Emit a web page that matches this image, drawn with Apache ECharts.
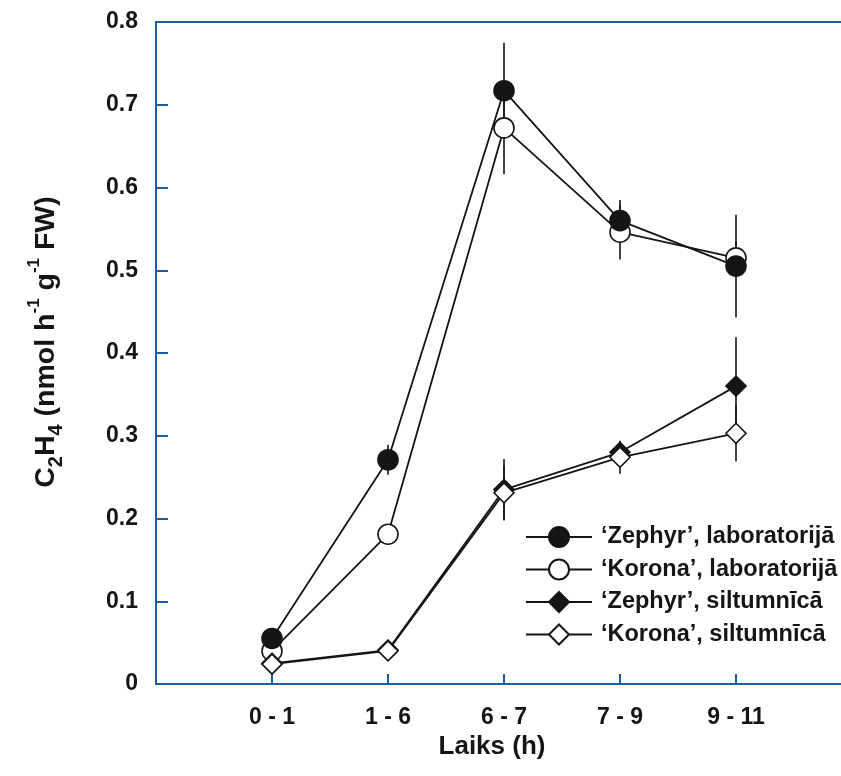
<!DOCTYPE html>
<html>
<head>
<meta charset="utf-8">
<style>
  html, body { margin: 0; padding: 0; background: #fff; }
  #chart { width: 841px; height: 776px; }
</style>
<script src="https://cdn.jsdelivr.net/npm/echarts@6/dist/echarts.min.js"></script>
</head>
<body>
<div id="chart"></div>
<script>
// Time intervals after harvest (hours)
const categories = ['0 - 1', '1 - 6', '6 - 7', '7 - 9', '9 - 11'];

// Ethylene production, nmol h-1 g-1 FW: means and error half-widths
const zephyrLab = [0.055, 0.271, 0.717, 0.560, 0.505];
const zephyrLabErr = [0, 0.018, 0.058, 0.025, 0.062];
const koronaLab = [0.040, 0.181, 0.672, 0.546, 0.515];
const koronaLabErr = [0, 0, 0.056, 0.033, 0.02];
const zephyrGreen = [0.025, 0.041, 0.235, 0.280, 0.360];
const zephyrGreenErr = [0, 0, 0.037, 0.012, 0.059];
const koronaGreen = [0.024, 0.040, 0.231, 0.274, 0.303];
const koronaGreenErr = [0, 0, 0.033, 0.020, 0.034];

const yTicks = [0, 0.1, 0.2, 0.3, 0.4, 0.5, 0.6, 0.7, 0.8];

const seriesNames = [
  '\u2018Zephyr\u2019, laboratorij\u0101',
  '\u2018Korona\u2019, laboratorij\u0101',
  '\u2018Zephyr\u2019, siltumn\u012bc\u0101',
  '\u2018Korona\u2019, siltumn\u012bc\u0101'
];

const AXIS = '#1f5ba8';
const INK = '#151515';
const FONT = 'Liberation Sans, Arial, Helvetica, sans-serif';

function points(values) {
  return values.map((v, i) => [i + 1, v]);
}
function bars(values, errs) {
  return values.map((v, i) => [i + 1, v - errs[i], v + errs[i]]);
}

function errorSeries(values, errs) {
  return {
    type: 'custom',
    silent: true,
    z: 1,
    data: bars(values, errs).filter(d => d[2] > d[1]),
    encode: { x: 0, y: [1, 2] },
    renderItem: function (params, api) {
      const lo = api.coord([api.value(0), api.value(1)]);
      const hi = api.coord([api.value(0), api.value(2)]);
      return {
        type: 'line',
        shape: { x1: lo[0], y1: lo[1], x2: hi[0], y2: hi[1] },
        style: { stroke: INK, lineWidth: 1.6 }
      };
    }
  };
}

function lineSeries(name, values, symbol, filled, z) {
  return {
    name: name,
    type: 'line',
    data: points(values),
    symbol: symbol,
    symbolSize: 20,
    z: z,
    lineStyle: { color: INK, width: 1.8 },
    itemStyle: {
      color: filled ? INK : '#ffffff',
      borderColor: INK,
      borderWidth: 1.6
    },
    emphasis: { disabled: true }
  };
}

const chart = echarts.init(document.getElementById('chart'), null, { renderer: 'canvas' });

chart.setOption({
  animation: false,
  backgroundColor: '#ffffff',
  grid: {
    left: 156, top: 22, width: 696, height: 662,
    outerBoundsMode: 'none',
    containLabel: false,
    show: true, borderColor: AXIS, borderWidth: 2, backgroundColor: 'transparent'
  },
  legend: {
    orient: 'vertical',
    left: 525,
    top: 525,
    padding: 0,
    itemWidth: 66,
    itemHeight: 25,
    itemGap: 8.5,
    data: seriesNames,
    textStyle: { color: INK, fontFamily: FONT, fontWeight: 'bold', fontSize: 23.5, padding: [0, 0, 0, 4] }
  },
  xAxis: {
    type: 'value',
    min: 0,
    max: 6,
    interval: 1,
    name: 'Laiks (h)',
    nameLocation: 'middle',
    nameGap: 47,
    nameTextStyle: { color: INK, fontFamily: FONT, fontWeight: 'bold', fontSize: 26, padding: [0, 24, 0, 0] },
    axisLine: { lineStyle: { color: AXIS, width: 2 } },
    axisTick: { inside: true, length: 10, lineStyle: { color: AXIS, width: 2 } },
    splitLine: { show: false },
    axisLabel: {
      margin: 22,
      color: INK, fontFamily: FONT, fontWeight: 'bold', fontSize: 23,
      formatter: function (v) {
        const i = Math.round(v) - 1;
        return categories[i] !== undefined ? categories[i] : '';
      }
    }
  },
  yAxis: {
    type: 'value',
    min: 0,
    max: 0.8,
    interval: 0.1,
    name: '{b|C}{s|2}{b|H}{s|4}{b| (nmol h}{p|-1}{b| g}{p|-1}{b| FW)}',
    nameLocation: 'middle',
    nameRotate: 90,
    nameGap: 90,
    nameTextStyle: {
      color: INK,
      padding: [0, 0, 0, 22],
      rich: {
        b: { fontFamily: FONT, fontWeight: 'bold', fontSize: 28.5, lineHeight: 40, color: INK },
        s: { fontFamily: FONT, fontWeight: 'bold', fontSize: 20, lineHeight: 22, verticalAlign: 'bottom', color: INK },
        p: { fontFamily: FONT, fontWeight: 'bold', fontSize: 17, lineHeight: 19, verticalAlign: 'top', color: INK }
      }
    },
    axisLine: { lineStyle: { color: AXIS, width: 2 } },
    axisTick: { inside: true, length: 12, lineStyle: { color: AXIS, width: 2 } },
    splitLine: { show: false },
    axisLabel: {
      margin: 18,
      color: INK, fontFamily: FONT, fontWeight: 'bold', fontSize: 23,
      formatter: function (v) {
        const t = yTicks.find(x => Math.abs(x - v) < 1e-9);
        return t === 0 ? '0' : t.toFixed(1);
      }
    }
  },
  series: [
    errorSeries(zephyrLab, zephyrLabErr),
    errorSeries(koronaLab, koronaLabErr),
    errorSeries(zephyrGreen, zephyrGreenErr),
    errorSeries(koronaGreen, koronaGreenErr),
    lineSeries(seriesNames[1], koronaLab, 'circle', false, 3),
    lineSeries(seriesNames[0], zephyrLab, 'circle', true, 4),
    lineSeries(seriesNames[2], zephyrGreen, 'diamond', true, 5),
    lineSeries(seriesNames[3], koronaGreen, 'diamond', false, 6)
  ]
});
</script>
</body>
</html>
